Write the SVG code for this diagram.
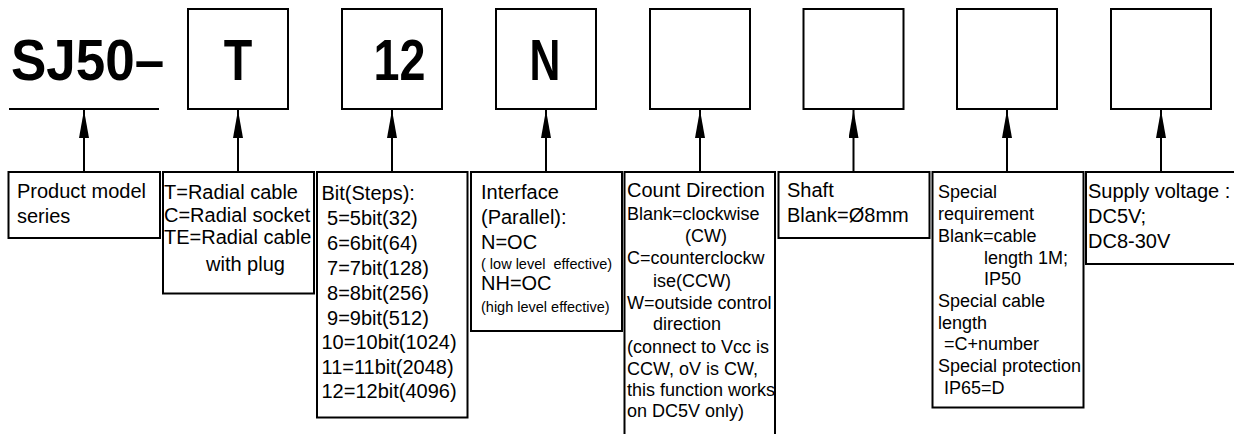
<svg xmlns="http://www.w3.org/2000/svg" width="1234" height="434" viewBox="0 0 1234 434">
<defs>
<style>
.box{fill:#fff;stroke:#000;stroke-width:2}
.big{font-family:"Liberation Sans",Arial,sans-serif;font-weight:bold;font-size:57px;fill:#000}
.t{font-family:"Liberation Sans",Arial,"Noto Sans CJK SC",sans-serif;font-size:20px;fill:#000}
.s{font-family:"Liberation Sans",Arial,sans-serif;font-size:18px;fill:#000}
.xs{font-family:"Liberation Sans",Arial,sans-serif;font-size:14.5px;fill:#000}
.con{stroke:#000;stroke-width:2;fill:none}
</style>
<marker id="arr" viewBox="0 0 28 10" refX="28" refY="5" markerWidth="28" markerHeight="10" markerUnits="userSpaceOnUse" orient="auto">
<path d="M28,5 L0,0 L0,10 Z" fill="#000"/>
</marker>
</defs>
<rect width="1234" height="434" fill="#fff"/>

<g id="model">
<text class="big" transform="translate(11,80) scale(0.93,1)">SJ50–</text>
<line x1="9" y1="109" x2="159" y2="109" stroke="#000" stroke-width="2"/>
</g>
<g id="code-T"><rect class="box" x="188" y="9" width="100" height="100"/><text class="big" text-anchor="middle" transform="translate(238,80) scale(0.82,1)">T</text></g>
<g id="code-12"><rect class="box" x="342" y="9" width="100" height="100"/><text class="big" text-anchor="middle" transform="translate(399.5,80) scale(0.82,1)">12</text></g>
<g id="code-N"><rect class="box" x="496" y="9" width="100" height="100"/><text class="big" text-anchor="middle" transform="translate(545,80) scale(0.75,1)">N</text></g>
<g id="code-dir"><rect class="box" x="650" y="9" width="100" height="100"/></g>
<g id="code-shaft"><rect class="box" x="803.5" y="9" width="100" height="100"/></g>
<g id="code-special"><rect class="box" x="957" y="9" width="100" height="100"/></g>
<g id="code-voltage"><rect class="box" x="1111" y="9" width="100" height="100"/></g>

<g id="connectors">
<line class="con" x1="84" y1="172" x2="84" y2="110" marker-end="url(#arr)"/>
<line class="con" x1="238" y1="172" x2="238" y2="110" marker-end="url(#arr)"/>
<line class="con" x1="392" y1="172" x2="392" y2="110" marker-end="url(#arr)"/>
<line class="con" x1="546" y1="172" x2="546" y2="110" marker-end="url(#arr)"/>
<line class="con" x1="700" y1="172" x2="700" y2="110" marker-end="url(#arr)"/>
<line class="con" x1="853.5" y1="172" x2="853.5" y2="110" marker-end="url(#arr)"/>
<line class="con" x1="1007" y1="172" x2="1007" y2="110" marker-end="url(#arr)"/>
<line class="con" x1="1161" y1="172" x2="1161" y2="110" marker-end="url(#arr)"/>
</g>

<g id="desc-model">
<rect class="box" x="8.5" y="172" width="151.5" height="66"/>
<text class="t" x="17" y="198">Product model</text>
<text class="t" x="17" y="222.5">series</text>
</g>

<g id="desc-cable">
<rect class="box" x="163" y="172" width="151" height="121.5"/>
<text class="t" x="164" y="199">T=Radial cable</text>
<text class="t" x="164" y="221.5">C=Radial socket</text>
<text class="t" x="164" y="244">TE=Radial cable</text>
<text class="t" x="206" y="270.5">with plug</text>
</g>

<g id="desc-bits">
<rect class="box" x="317" y="172" width="150.5" height="245.5"/>
<text class="t" x="321.5" y="200">Bit(Steps):</text>
<text class="t" x="321.5" y="225" xml:space="preserve"> 5=5bit(32)</text>
<text class="t" x="321.5" y="250" xml:space="preserve"> 6=6bit(64)</text>
<text class="t" x="321.5" y="275" xml:space="preserve"> 7=7bit(128)</text>
<text class="t" x="321.5" y="299.5" xml:space="preserve"> 8=8bit(256)</text>
<text class="t" x="321.5" y="324.5" xml:space="preserve"> 9=9bit(512)</text>
<text class="t" x="321.5" y="349">10=10bit(1024)</text>
<text class="t" x="321.5" y="373.5">11=11bit(2048)</text>
<text class="t" x="321.5" y="397.5">12=12bit(4096)</text>
</g>

<g id="desc-interface">
<rect class="box" x="471" y="172" width="151" height="159"/>
<text class="t" x="481" y="199">Interface</text>
<text class="t" x="481" y="224">(Parallel):</text>
<text class="t" x="481" y="248.5">N=OC</text>
<text class="xs" x="481" y="268.5" xml:space="preserve">( low level  effective)</text>
<text class="t" x="481" y="290">NH=OC</text>
<text class="xs" x="481" y="311.5">(high level effective)</text>
</g>

<g id="desc-direction">
<rect class="box" x="624.5" y="172" width="150.5" height="300"/>
<text class="t" x="627" y="196.5">Count Direction</text>
<text class="s" x="627" y="220">Blank=clockwise</text>
<text class="s" x="685" y="241.5">(CW)</text>
<text class="s" x="627" y="263.5">C=counterclockw</text>
<text class="s" x="653" y="286.5">ise(CCW)</text>
<text class="s" x="627" y="308.5">W=outside control</text>
<text class="s" x="653" y="330">direction</text>
<text class="s" x="627" y="352.5">(connect to Vcc is</text>
<text class="s" x="627" y="375">CCW, oV is CW,</text>
<text class="s" x="627" y="396">this function works</text>
<text class="s" x="627" y="416.5">on DC5V only)</text>
</g>

<g id="desc-shaft">
<rect class="box" x="778.5" y="172" width="151" height="66"/>
<text class="t" x="787" y="196.5">Shaft</text>
<text class="t" x="787" y="221.5">Blank=Ø8mm</text>
</g>

<g id="desc-special">
<rect class="box" x="932.5" y="172" width="151" height="235.5"/>
<text class="s" x="938" y="198">Special</text>
<text class="s" x="938" y="220">requirement</text>
<text class="s" x="938" y="241.5">Blank=cable</text>
<text class="s" x="984" y="263.5">length 1M;</text>
<text class="s" x="984" y="285">IP50</text>
<text class="s" x="938" y="306.5">Special cable</text>
<text class="s" x="938" y="328.5">length</text>
<text class="s" x="944" y="350">=C+number</text>
<text class="s" x="938" y="371.5">Special protection</text>
<text class="s" x="944" y="393.5">IP65=D</text>
</g>

<g id="desc-voltage">
<rect class="box" x="1086" y="172" width="170" height="92"/>
<text class="t" x="1088" y="198">Supply voltage :</text>
<text class="t" x="1088" y="223">DC5V;</text>
<text class="t" x="1088" y="248">DC8-30V</text>
</g>
</svg>
